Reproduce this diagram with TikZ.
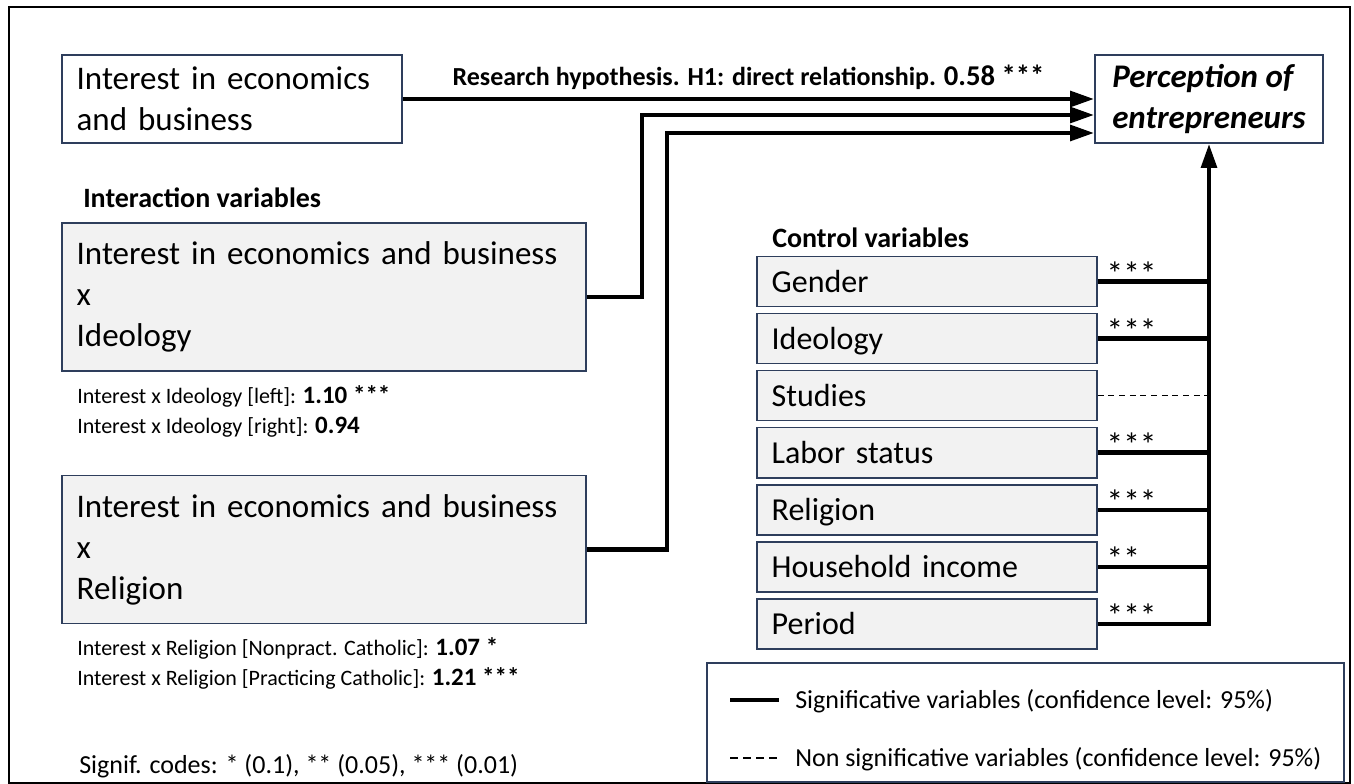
\documentclass[tikz,border=0pt]{standalone}
\usepackage{fontspec}
\setmainfont{Carlito}
\usepackage{tikz}
\usetikzlibrary{calc,positioning,arrows.meta,chains,scopes}
\definecolor{boxline}{RGB}{46,62,92}
\definecolor{boxfill}{RGB}{242,242,242}
\newcommand{\boxfont}{\fontsize{24.75pt}{30.75pt}\selectfont}
\newcommand{\ctrlfont}{\fontsize{24pt}{28pt}\selectfont}
\newcommand{\headfont}{\fontsize{21pt}{25pt}\selectfont\bfseries}
\newcommand{\notefont}{\fontsize{16.5pt}{20pt}\selectfont}
\newcommand{\keyfont}{\fontsize{19.5pt}{23pt}\selectfont}
\newcommand{\coef}[1]{{\fontsize{18.75pt}{20pt}\selectfont\bfseries #1}}
\tikzset{
	>={Triangle[length=18pt,width=11.5pt]},
	box/.style={draw=boxline, line width=1.2pt, align=left, font=\boxfont},
	sig/.style={line width=3.4pt},
	nonsig/.style={line width=1pt, dash pattern=on 4.5pt off 3.5pt},
	txt/.style={anchor=base west, inner sep=0pt},
	stars/.style={anchor=base west, inner sep=0pt, xshift=5pt, yshift=-3pt, font=\fontsize{25pt}{26pt}\selectfont},
}

\begin{document}
\begin{tikzpicture}[x=0.75pt, y=-0.75pt]
	\useasboundingbox (0,0) rectangle (1354,784);
	\draw[line width=1.8pt] (9,7) rectangle (1350,783);

	% main relationship
	\node[box, text width=233pt, inner xsep=11pt, minimum height=66pt] (interest) at (232,99)
		{Interest in economics\\and business};
	\node[box, minimum width=171pt, minimum height=66pt, font=\boxfont\bfseries\itshape] (perc) at (1209,99)
		{Perception of\\entrepreneurs};

	% interaction variables
	\node[txt, font=\headfont] (inthead) at (83,208) {Interaction variables};
	\node[box, fill=boxfill, text width=371pt, inner xsep=11pt, minimum height=111pt] (intideo) at (324,297)
		{Interest in economics and business\\x\\Ideology};
	\node[txt, font=\notefont] (ideoleft) at (77,403) {Interest x Ideology [left]: \coef{1.10 ***}};
	\node[txt, font=\notefont] (ideoright) at (77,433) {Interest x Ideology [right]: \coef{0.94}};
	\node[box, fill=boxfill, text width=371pt, inner xsep=11pt, minimum height=111pt] (intrel) at (324,549.5)
		{Interest in economics and business\\x\\Religion};
	\node[txt, font=\notefont] (relnon) at (77,655) {Interest x Religion [Nonpract. Catholic]: \coef{1.07 *}};
	\node[txt, font=\notefont] (relprac) at (77,685) {Interest x Religion [Practicing Catholic]: \coef{1.21 ***}};
	\node[txt, font=\keyfont] (codes) at (79,773) {Signif. codes: * (0.1), ** (0.05), *** (0.01)};

	% control variables
	\node[txt, font=\headfont] (ctrlhead) at (772,248) {Control variables};
	{ [start chain=ctrl going below, node distance=4.1pt,
	   every node/.style={box, fill=boxfill, font=\ctrlfont, text width=233pt, inner xsep=11pt,
	   minimum height=37.5pt, text height=18pt, text depth=1.5pt}]
	\node[on chain] at (927,281.5) {Gender};
	\node[on chain] {Ideology};
	\node[on chain] {Studies};
	\node[on chain] {Labor status};
	\node[on chain] {Religion};
	\node[on chain] {Household income};
	\node[on chain] {Period};
	}

	% connectors
	\coordinate (inB) at ($(perc.west)+(0,16)$);
	\coordinate (inC) at ($(perc.west)+(0,34)$);
	\draw[sig,->] (interest) -- node[above, inner sep=5pt, font=\keyfont\bfseries]
		{Research hypothesis. H1: direct relationship. {\fontsize{21.5pt}{24pt}\selectfont 0.58 ***}} (perc);
	\draw[sig,->] (intideo.east) -- ++(55,0) |- (inB);
	\draw[sig,->] (intrel.east) -- ++(80,0) |- (inC);

	\foreach \i/\st in {1/***,2/***,4/***,5/***,6/**}
		\draw[sig] (ctrl-\i.east) node[stars] {\st} -- (ctrl-\i.east -| perc.south);
	\draw[nonsig] (ctrl-3.east) -- (ctrl-3.east -| perc.south);
	\draw[sig,->] (ctrl-7.east) node[stars] {***} -| (perc.south);

	% legend
	\node[draw=boxline, line width=1.2pt, minimum width=477.75pt, minimum height=89.25pt] (legend) at (1025.5,722.5) {};
	\node[txt, font=\keyfont] (sigkey) at (795,708) {Significative variables (confidence level: 95\%)};
	\node[txt, font=\keyfont] (nonsigkey) at (795,766) {Non significative variables (confidence level: 95\%)};
	\draw[sig, line width=3pt] ($(sigkey.base west)+(-65,-8)$) -- ++(49,0);
	\draw[line width=1.5pt, dash pattern=on 6pt off 3.75pt] ($(nonsigkey.base west)+(-65,-8)$) -- ++(47,0);
\end{tikzpicture}
\end{document}
